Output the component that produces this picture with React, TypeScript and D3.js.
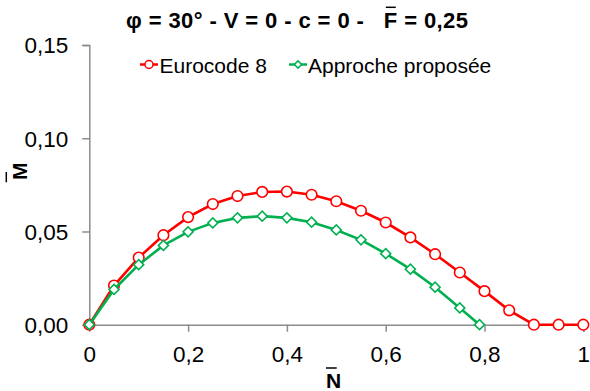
import React, { useEffect, useRef } from "react";
import * as d3 from "d3";

const xEuro = [0, 0.05, 0.1, 0.15, 0.2, 0.25, 0.3, 0.35, 0.4, 0.45, 0.5, 0.55, 0.6, 0.65, 0.7, 0.75, 0.8, 0.85, 0.9, 0.95, 1.0];
const yEuro = [0, 0.021, 0.036, 0.048, 0.0577, 0.0647, 0.069, 0.0712, 0.0714, 0.0697, 0.0662, 0.0611, 0.0548, 0.0468, 0.0378, 0.028, 0.018, 0.0077, 0, 0, 0];
const xProp = [0, 0.05, 0.1, 0.15, 0.2, 0.25, 0.3, 0.35, 0.4, 0.45, 0.5, 0.55, 0.6, 0.65, 0.7, 0.75, 0.79];
const yProp = [0, 0.0189, 0.0322, 0.0425, 0.0498, 0.0546, 0.0573, 0.0582, 0.0573, 0.055, 0.0508, 0.0455, 0.0381, 0.0298, 0.0201, 0.009, 0];
const xTicks = [0, 0.2, 0.4, 0.6, 0.8, 1];
const yTicks = [0, 0.05, 0.1, 0.15];
const seriesNames = ["Eurocode 8", "Approche proposée"];
const titleText = "φ = 30° - V = 0 - c = 0 -   F = 0,25";

const W = 590, H = 391;
const RED = "#ff0000", GREEN = "#00b050", AXIS = "#8c8c8c";
const FONT = "'Liberation Sans', Arial, sans-serif";
const FS = 21;
const TICK_FS = 22.5;

export default function App() {
  const ref = useRef<SVGSVGElement>(null);
  useEffect(() => {
    const svg = d3.select(ref.current);
    svg.selectAll("*").remove();
    const x = d3.scaleLinear().domain([0, 1]).range([89.3, 583.3]);
    const y = d3.scaleLinear().domain([0, 0.15]).range([324.7, 45]);
    const fmtY = (v: number) => d3.format(".2f")(v).replace(".", ",");
    const fmtX = (v: number) => (v === 0 || v === 1 ? String(v) : d3.format(".1f")(v).replace(".", ","));

    // axes
    const yAxis = svg.append("g").attr("transform", `translate(${x(0)},0)`)
      .call(d3.axisLeft(y).tickValues(yTicks).tickSize(7).tickPadding(14).tickFormat((d: any) => fmtY(d)));
    const xAxis = svg.append("g").attr("transform", `translate(0,${y(0)})`)
      .call(d3.axisBottom(x).tickValues(xTicks).tickSize(7).tickPadding(14).tickFormat((d: any) => fmtX(d)));
    [yAxis, xAxis].forEach((g) => {
      g.select(".domain").attr("stroke", AXIS).attr("stroke-width", 1.5);
      g.selectAll(".tick line").attr("stroke", AXIS).attr("stroke-width", 1.5);
      g.selectAll(".tick text").attr("fill", "#000").attr("font-size", TICK_FS).attr("font-family", FONT);
    });
    yAxis.selectAll(".tick text").attr("dy", "0.35em");
    xAxis.selectAll(".tick text").attr("dy", "0.71em");
    xAxis.selectAll(".tick").filter((d: any) => d === 0).select("line").remove();
    yAxis.selectAll(".tick").filter((d: any) => d === 0).select("line").remove();

    const line = d3.line<[number, number]>().x((d) => x(d[0])).y((d) => y(d[1]));
    const euro: [number, number][] = xEuro.map((v, i) => [v, yEuro[i]]);
    const prop: [number, number][] = xProp.map((v, i) => [v, yProp[i]]);

    const circle = d3.symbol().type(d3.symbolCircle).size(Math.PI * 5.3 * 5.3);
    const diamond = d3.symbol().type(d3.symbolSquare).size(50);

    svg.append("path").attr("d", line(euro)).attr("fill", "none").attr("stroke", RED).attr("stroke-width", 2.6);
    svg.append("g").selectAll("path").data(euro).join("path")
      .attr("d", circle).attr("transform", (d) => `translate(${x(d[0])},${y(d[1])})`)
      .attr("fill", "#fff").attr("stroke", RED).attr("stroke-width", 1.6);

    svg.append("path").attr("d", line(prop)).attr("fill", "none").attr("stroke", GREEN).attr("stroke-width", 2.6);
    svg.append("g").selectAll("path").data(prop).join("path")
      .attr("d", diamond).attr("transform", (d) => `translate(${x(d[0])},${y(d[1])}) rotate(45)`)
      .attr("fill", "#fff").attr("stroke", GREEN).attr("stroke-width", 1.6);

    // title
    const title = svg.append("text").attr("x", 126).attr("y", 28.3)
      .attr("font-family", FONT).attr("font-weight", "bold").attr("font-size", 22)
      .attr("textLength", 342).attr("lengthAdjust", "spacing")
      .style("white-space", "pre").text(titleText);
    const fIdx = titleText.indexOf("F");
    const ext = (title.node() as any).getExtentOfChar(fIdx);
    svg.append("line").attr("x1", ext.x + 2).attr("x2", ext.x + ext.width - 1.5).attr("y1", 7.3).attr("y2", 7.3)
      .attr("stroke", "#000").attr("stroke-width", 1.5);

    // legend
    const leg = [
      { name: seriesNames[0], color: RED, sym: d3.symbol().type(d3.symbolCircle).size(Math.PI * 16), rot: 0, lx: 140, tx: 159.5 },
      { name: seriesNames[1], color: GREEN, sym: d3.symbol().type(d3.symbolSquare).size(26), rot: 45, lx: 289, tx: 308 },
    ];
    leg.forEach((l) => {
      svg.append("line").attr("x1", l.lx).attr("x2", l.lx + 18).attr("y1", 64.5).attr("y2", 64.5)
        .attr("stroke", l.color).attr("stroke-width", 2.5);
      svg.append("path").attr("d", l.sym()).attr("transform", `translate(${l.lx + 9},64.5) rotate(${l.rot})`)
        .attr("fill", "#fff").attr("stroke", l.color).attr("stroke-width", 1.5);
      svg.append("text").attr("x", l.tx).attr("y", 72.5).attr("font-family", FONT).attr("font-size", FS)
        .text(l.name);
    });

    // axis titles
    svg.append("text").attr("x", 333.7).attr("y", 388).attr("text-anchor", "middle")
      .attr("font-family", FONT).attr("font-weight", "bold").attr("font-size", FS).text("N");
    svg.append("line").attr("x1", 326).attr("x2", 336.7).attr("y1", 368).attr("y2", 368)
      .attr("stroke", "#000").attr("stroke-width", 1.5);

    svg.append("text").attr("transform", "translate(26.5,171.3) rotate(-90)").attr("text-anchor", "middle")
      .attr("font-family", FONT).attr("font-weight", "bold").attr("font-size", FS).text("M");
    svg.append("line").attr("x1", 6.3).attr("x2", 6.3).attr("y1", 172).attr("y2", 182.3)
      .attr("stroke", "#000").attr("stroke-width", 1.5);
  }, []);
  return (
    <svg ref={ref} width={W} height={H} style={{ position: "absolute", left: 0, top: 0, background: "#fff" }} />
  );
}
